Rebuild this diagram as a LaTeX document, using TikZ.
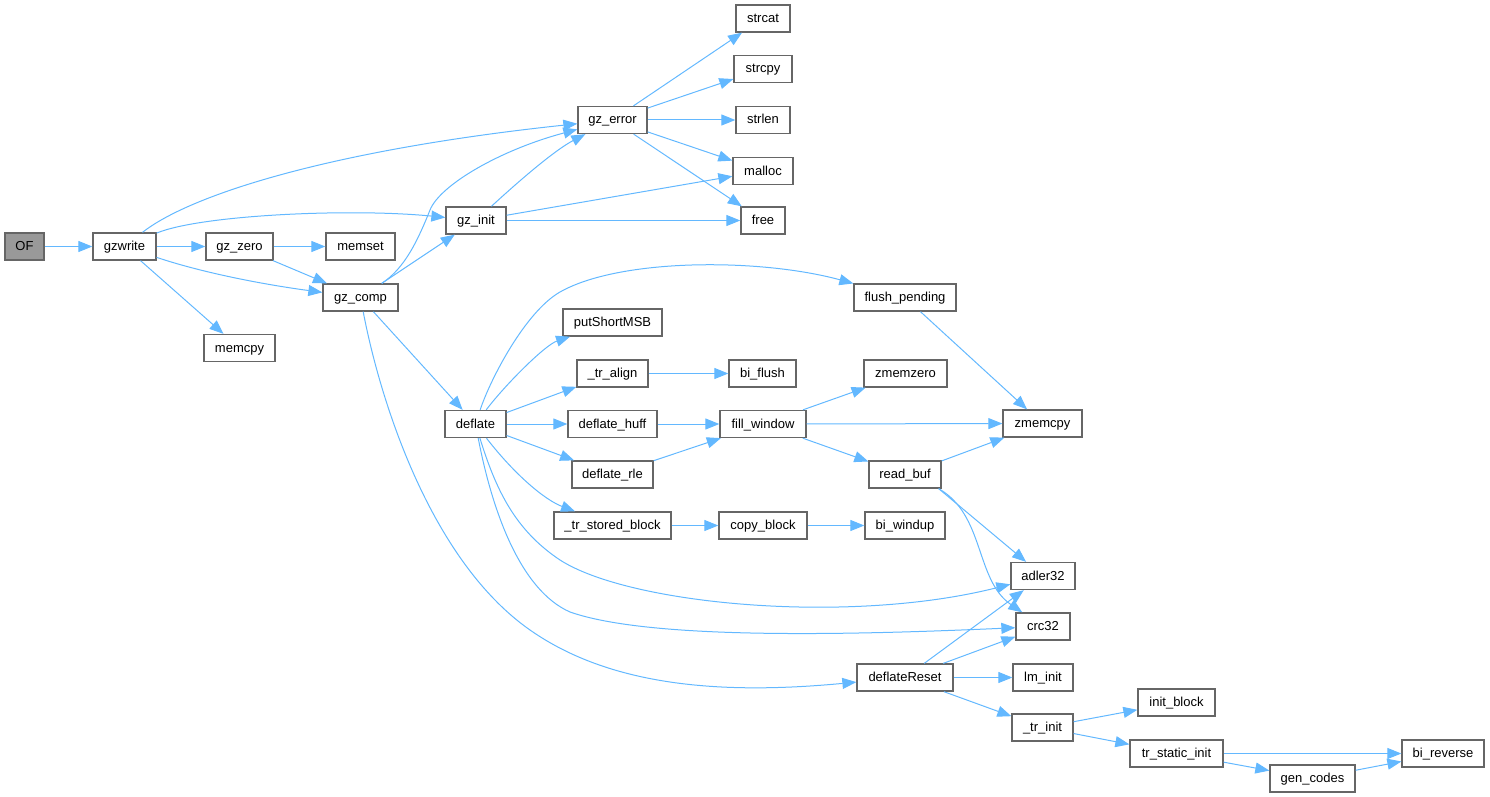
\documentclass[tikz,border=0pt]{standalone}
\usepackage{fontspec}
\setmainfont{Liberation Sans}
\usetikzlibrary{arrows.meta}
\definecolor{edgeblue}{HTML}{63B8FF}
\definecolor{boxgray}{HTML}{666666}
\definecolor{rootgray}{HTML}{999999}
\begin{document}
\begin{tikzpicture}[x=1pt,y=-1pt,
  fn/.style={draw=boxgray, fill=white, line width=1.3pt, minimum height=27pt,
    inner sep=0pt, text height=10pt, text depth=2pt,
    font=\fontsize{13pt}{15pt}\selectfont},
  call/.style={draw=edgeblue, line width=1pt, -{Triangle[length=14pt,width=11pt]}}]
\useasboundingbox (0,0) rectangle (1490,797);

% nodes
\node[fn, fill=rootgray, minimum width=39pt] (OF) at (24.5,246.5) {OF};
\node[fn, minimum width=63pt] (gzwrite) at (124.5,246.5) {gzwrite};
\node[fn, minimum width=67pt] (gzzero) at (239.5,246.5) {gz\_zero};
\node[fn, minimum width=69pt] (memset) at (360.5,246.5) {memset};
\node[fn, minimum width=71pt] (memcpy) at (239.5,348) {memcpy};
\node[fn, minimum width=75pt] (gzcomp) at (360.5,297.5) {gz\_comp};
\node[fn, minimum width=60pt] (gzinit) at (476,220.5) {gz\_init};
\node[fn, minimum width=69pt] (gzerror) at (612.5,120) {gz\_error};
\node[fn, minimum width=54pt] (strcat) at (763,18.5) {strcat};
\node[fn, minimum width=58pt] (strcpy) at (763,69) {strcpy};
\node[fn, minimum width=54pt] (strlen) at (763,120) {strlen};
\node[fn, minimum width=60pt] (malloc) at (763,171) {malloc};
\node[fn, minimum width=44pt] (free) at (763,220.5) {free};
\node[fn, minimum width=61pt] (deflate) at (475.5,424) {deflate};
\node[fn, minimum width=99pt] (putShortMSB) at (612.5,322.5) {putShortMSB};
\node[fn, minimum width=71pt] (tralign) at (612.5,373.5) {\_tr\_align};
\node[fn, minimum width=67pt] (biflush) at (762.5,373.5) {bi\_flush};
\node[fn, minimum width=89pt] (deflatehuff) at (612.5,424) {deflate\_huff};
\node[fn, minimum width=86pt] (fillwindow) at (763,424) {fill\_window};
\node[fn, minimum width=81pt] (deflaterle) at (612.5,474.5) {deflate\_rle};
\node[fn, minimum width=117pt] (trstoredblock) at (612.5,525.5) {\_tr\_stored\_block};
\node[fn, minimum width=88pt] (copyblock) at (763,525.5) {copy\_block};
\node[fn, minimum width=102pt] (flushpending) at (905,297.5) {flush\_pending};
\node[fn, minimum width=83pt] (zmemzero) at (905.5,373.5) {zmemzero};
\node[fn, minimum width=79pt] (zmemcpy) at (1042.5,423.5) {zmemcpy};
\node[fn, minimum width=72pt] (readbuf) at (905,474.5) {read\_buf};
\node[fn, minimum width=80pt] (biwindup) at (905,525.5) {bi\_windup};
\node[fn, minimum width=64pt] (adler32) at (1043,576) {adler32};
\node[fn, minimum width=54pt] (crc32) at (1043,626.5) {crc32};
\node[fn, minimum width=96pt] (deflateReset) at (905,677.5) {deflateReset};
\node[fn, minimum width=60pt] (lminit) at (1043,677.5) {lm\_init};
\node[fn, minimum width=61pt] (trinit) at (1042.5,727.5) {\_tr\_init};
\node[fn, minimum width=77pt] (initblock) at (1176.5,702.5) {init\_block};
\node[fn, minimum width=93pt] (trstaticinit) at (1176.5,753.5) {tr\_static\_init};
\node[fn, minimum width=82pt] (bireverse) at (1443,753.5) {bi\_reverse};
\node[fn, minimum width=85pt] (gencodes) at (1312.5,778.5) {gen\_codes};

% edges
\draw[call] (OF) -- (gzwrite);
\draw[call] (gzwrite) .. controls (190,195) and (330,150) .. (gzerror);
\draw[call] (gzwrite) .. controls (200,215) and (350,208) .. (gzinit);
\draw[call] (gzwrite) -- (gzzero);
\draw[call] (gzwrite) .. controls (200,272) and (260,284) .. (gzcomp);
\draw[call] (gzwrite) -- (memcpy);
\draw[call] (gzzero) -- (memset);
\draw[call] (gzzero) -- (gzcomp);
\draw[call] (gzcomp) .. controls (405,268) and (418,240) .. (430,210)
  .. controls (440,185) and (500,150) .. (gzerror);
\draw[call] (gzcomp) -- (gzinit);
\draw[call] (gzcomp) -- (deflate);
\draw[call] (gzcomp) .. controls (380,400) and (430,560) .. (530,630)
  .. controls (610,686) and (720,695) .. (deflateReset);
\draw[call] (gzinit) .. controls (520,180) and (555,150) .. (gzerror);
\draw[call] (gzinit) -- (malloc);
\draw[call] (gzinit) -- (free);
\draw[call] (gzerror) -- (strcat);
\draw[call] (gzerror) -- (strcpy);
\draw[call] (gzerror) -- (strlen);
\draw[call] (gzerror) -- (malloc);
\draw[call] (gzerror) -- (free);
\draw[call] (deflate) .. controls (490,380) and (525,312) .. (560,292)
  .. controls (620,258) and (760,258) .. (flushpending);
\draw[call] (deflate) .. controls (505,385) and (545,345) .. (putShortMSB);
\draw[call] (deflate) -- (tralign);
\draw[call] (deflate) -- (deflatehuff);
\draw[call] (deflate) -- (deflaterle);
\draw[call] (deflate) .. controls (515,475) and (545,500) .. (trstoredblock);
\draw[call] (deflate) .. controls (496,490) and (515,530) .. (560,560)
  .. controls (630,605) and (850,625) .. (adler32);
\draw[call] (deflate) .. controls (492,510) and (520,590) .. (570,612)
  .. controls (650,640) and (850,635) .. (crc32);
\draw[call] (tralign) -- (biflush);
\draw[call] (deflatehuff) -- (fillwindow);
\draw[call] (deflaterle) -- (fillwindow);
\draw[call] (trstoredblock) -- (copyblock);
\draw[call] (copyblock) -- (biwindup);
\draw[call] (fillwindow) -- (zmemzero);
\draw[call] (fillwindow) -- (zmemcpy);
\draw[call] (fillwindow) -- (readbuf);
\draw[call] (flushpending) -- (zmemcpy);
\draw[call] (readbuf) -- (zmemcpy);
\draw[call] ([xshift=-3pt]readbuf.south east) -- (adler32);
\draw[call] ([xshift=-3pt]readbuf.south east) .. controls (985,515) and (975,580) .. (crc32);
\draw[call] (deflateReset) -- (adler32);
\draw[call] (deflateReset) -- (crc32);
\draw[call] (deflateReset) -- (lminit);
\draw[call] (deflateReset) -- (trinit);
\draw[call] (trinit) -- (initblock);
\draw[call] (trinit) -- (trstaticinit);
\draw[call] (trstaticinit) -- (bireverse);
\draw[call] (trstaticinit) -- (gencodes);
\draw[call] (gencodes) -- (bireverse);
\end{tikzpicture}
\end{document}
